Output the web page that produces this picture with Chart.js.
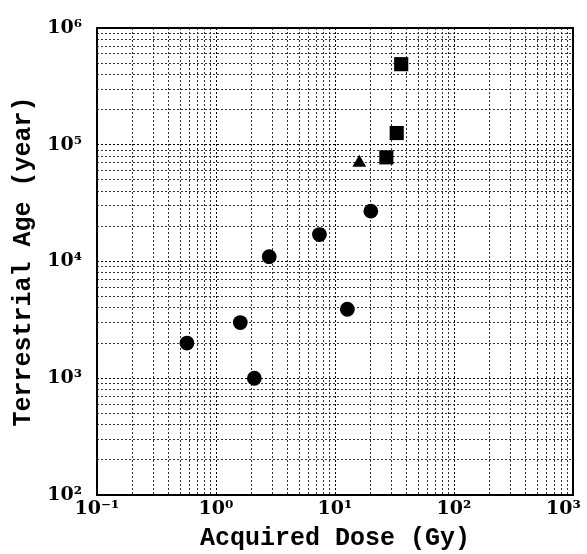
<!DOCTYPE html>
<html>
<head>
<meta charset="utf-8">
<script src="https://cdn.jsdelivr.net/npm/chart.js@4"></script>
<style>
  body { margin: 0; background: #fff; }
</style>
</head>
<body>
<canvas id="myChart" width="587" height="554"></canvas>
<script>
// data
const circleDose = [0.57, 1.6, 2.1, 2.8, 7.4, 12.7, 20];
const circleAge = [2000, 3000, 1000, 11000, 17000, 3900, 27000];
const squareDose = [27, 33, 36];
const squareAge = [78000, 126000, 490000];
const triangleDose = [16];
const triangleAge = [70000];

// axes
const xDecades = [0.1, 1, 10, 100, 1000];
const xTickLabels = ['10\u207B\u00B9', '10\u2070', '10\u00B9', '10\u00B2', '10\u00B3'];
const yDecades = [100, 1000, 10000, 100000, 1000000];
const yTickLabels = ['10\u00B2', '10\u00B3', '10\u2074', '10\u2075', '10\u2076'];

function pts(xs, ys) {
  return xs.map((x, i) => ({x: x, y: ys[i]}));
}

// 1..9 x each decade, decades flagged major
function logTicks(decades) {
  let t = [];
  for (let d = 0; d < decades.length; d++) {
    t.push({value: decades[d], major: true});
    if (d == decades.length - 1) break;
    for (let k = 2; k <= 9; k++) {
      t.push({value: +(decades[d] * k).toPrecision(6), major: false});
    }
  }
  return t;
}

const tickFont = {family: 'DejaVu Serif', size: 19, weight: 'bold'};
const titleFont = {family: 'Liberation Mono', size: 25, weight: 'bold'};

const boxPlugin = {
  id: 'box',
  afterDraw(chart) {
    const a = chart.chartArea;
    const ctx = chart.ctx;
    ctx.save();
    ctx.strokeStyle = '#000';
    ctx.lineWidth = 2;
    ctx.strokeRect(a.left, a.top, a.right - a.left, a.bottom - a.top);
    ctx.restore();
  }
};

const ctx = document.getElementById('myChart');
let chart = new Chart(ctx, {
  type: 'scatter',
  data: {
    datasets: [
      {label: 'circle', data: pts(circleDose, circleAge), pointStyle: 'circle', pointRadius: 7.4,
       backgroundColor: '#000', borderColor: '#000', borderWidth: 0},
      {label: 'square', data: pts(squareDose, squareAge), pointStyle: 'rect', pointRadius: 10,
       backgroundColor: '#000', borderColor: '#000', borderWidth: 0},
      {label: 'triangle', data: pts(triangleDose, triangleAge), pointStyle: 'triangle', pointRadius: 8,
       backgroundColor: '#000', borderColor: '#000', borderWidth: 0}
    ]
  },
  options: {
    responsive: false,
    animation: false,
    devicePixelRatio: 1,
    layout: {padding: {top: 28, right: 14, left: 0, bottom: 0}},
    plugins: {legend: {display: false}, tooltip: {enabled: false}},
    scales: {
      x: {
        type: 'logarithmic',
        min: 0.1, max: 1000,
        afterBuildTicks: s => { s.ticks = logTicks(xDecades); },
        afterFit: s => { s.height = 59; s.paddingLeft = 0; s.paddingRight = 0; },
        ticks: {
          autoSkip: false, maxRotation: 0, padding: 3, color: '#000', font: tickFont,
          callback: v => {
            const i = xDecades.indexOf(v);
            if (i < 0) return '';
            // last label sits a bit left so it stays on the page
            return i == xDecades.length - 1 ? xTickLabels[i] + '\u2002\u2002' : xTickLabels[i];
          }
        },
        grid: {color: c => c.tick && c.tick.major ? '#000' : '#333', lineWidth: 1, drawTicks: false},
        border: {display: false, dash: [2, 2]},
        title: {display: true, text: 'Acquired Dose (Gy)', color: '#000', font: titleFont, padding: {top: 0, bottom: 0}}
      },
      y: {
        type: 'logarithmic',
        min: 100, max: 1000000,
        afterBuildTicks: s => { s.ticks = logTicks(yDecades); },
        afterFit: s => { s.width = 97; s.paddingTop = 0; s.paddingBottom = 0; },
        ticks: {
          autoSkip: false, padding: 15, color: '#000', font: tickFont,
          callback: v => { const i = yDecades.indexOf(v); return i < 0 ? '' : yTickLabels[i]; }
        },
        grid: {color: c => c.tick && c.tick.major ? '#000' : '#333', lineWidth: 1, drawTicks: false},
        border: {display: false, dash: [2, 2]},
        title: {display: true, text: 'Terrestrial Age (year)', color: '#000', font: titleFont, padding: {top: 9, bottom: 0}}
      }
    }
  },
  plugins: [boxPlugin]
});
</script>
</body>
</html>
